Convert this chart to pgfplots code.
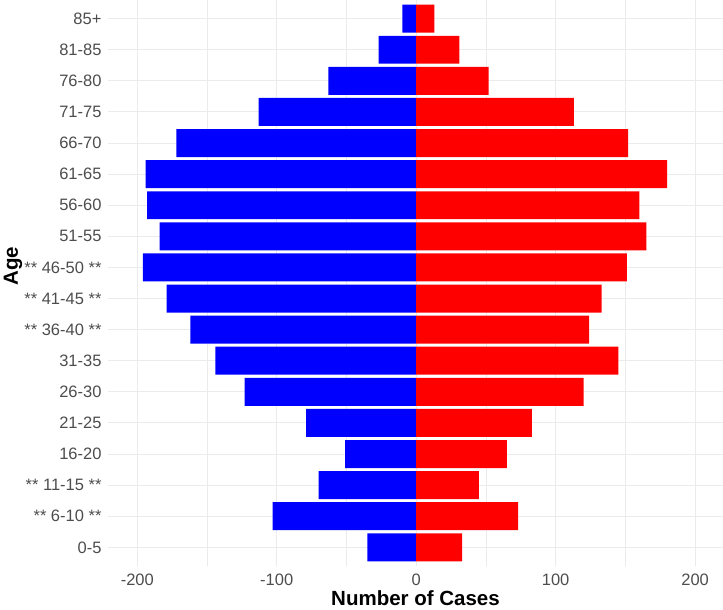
\documentclass[border=0pt]{standalone}
\usepackage{fontspec}
\setmainfont{Liberation Sans}
\usepackage{pgfplots}
\pgfplotsset{compat=1.18}
\definecolor{gridgray}{RGB}{235,235,235}
\definecolor{ticktext}{RGB}{77,77,77}

% age group index, left (blue) and right (red) counts
\pgfplotstableread{
idx left right
0   -35   33
1  -103   73
2   -70   45
3   -51   65
4   -79   83
5  -123  120
6  -144  145
7  -162  124
8  -179  133
9  -196  151
10 -184  165
11 -193  160
12 -194  180
13 -172  152
14 -113  113
15  -63   52
16  -27   31
17  -10   13
}\pyramid

\begin{document}
\begin{tikzpicture}
\begin{axis}[
  scale only axis,
  width=615pt, height=566pt,
  at={(0,0)}, anchor=south west,
  xmin=-221, xmax=220,
  ymin=-0.6, ymax=17.6,
  xtick={-200,-100,0,100,200},
  xticklabels={-200,-100,0,100,200},
  minor xtick={-150,-50,50,150},
  ytick={0,...,17},
  yticklabels={0-5,** 6-10 **,** 11-15 **,16-20,21-25,26-30,31-35,** 36-40 **,** 41-45 **,** 46-50 **,51-55,56-60,61-65,66-70,71-75,76-80,81-85,85+},
  xmajorgrids, xminorgrids, ymajorgrids,
  major grid style={gridgray, line width=1pt},
  minor grid style={gridgray, line width=0.6pt},
  axis line style={draw=none},
  major tick length=0pt, minor tick length=0pt,
  tick label style={font=\fontsize{16.5}{18}\selectfont, text=ticktext},
  yticklabel style={xshift=-3pt},
  xticklabel style={yshift=-4pt},
  xlabel={\textbf{Number of Cases}},
  ylabel={\textbf{Age}},
  label style={font=\fontsize{20.5}{22}\selectfont},
  xlabel style={at={(axis description cs:0.5,0)}, anchor=base, yshift=-40pt},
  ylabel style={at={(axis description cs:-0.1545,0.530)}, anchor=center},
  xbar, bar width=0.9, bar shift=0pt,
]
\addplot[fill=blue, draw=none] table[x=left, y=idx] {\pyramid};
\addplot[fill=red, draw=none] table[x=right, y=idx] {\pyramid};
\end{axis}
\pgfresetboundingbox
\path[use as bounding box] (-108pt,-44pt) rectangle (615pt,566pt);
\end{tikzpicture}
\end{document}
